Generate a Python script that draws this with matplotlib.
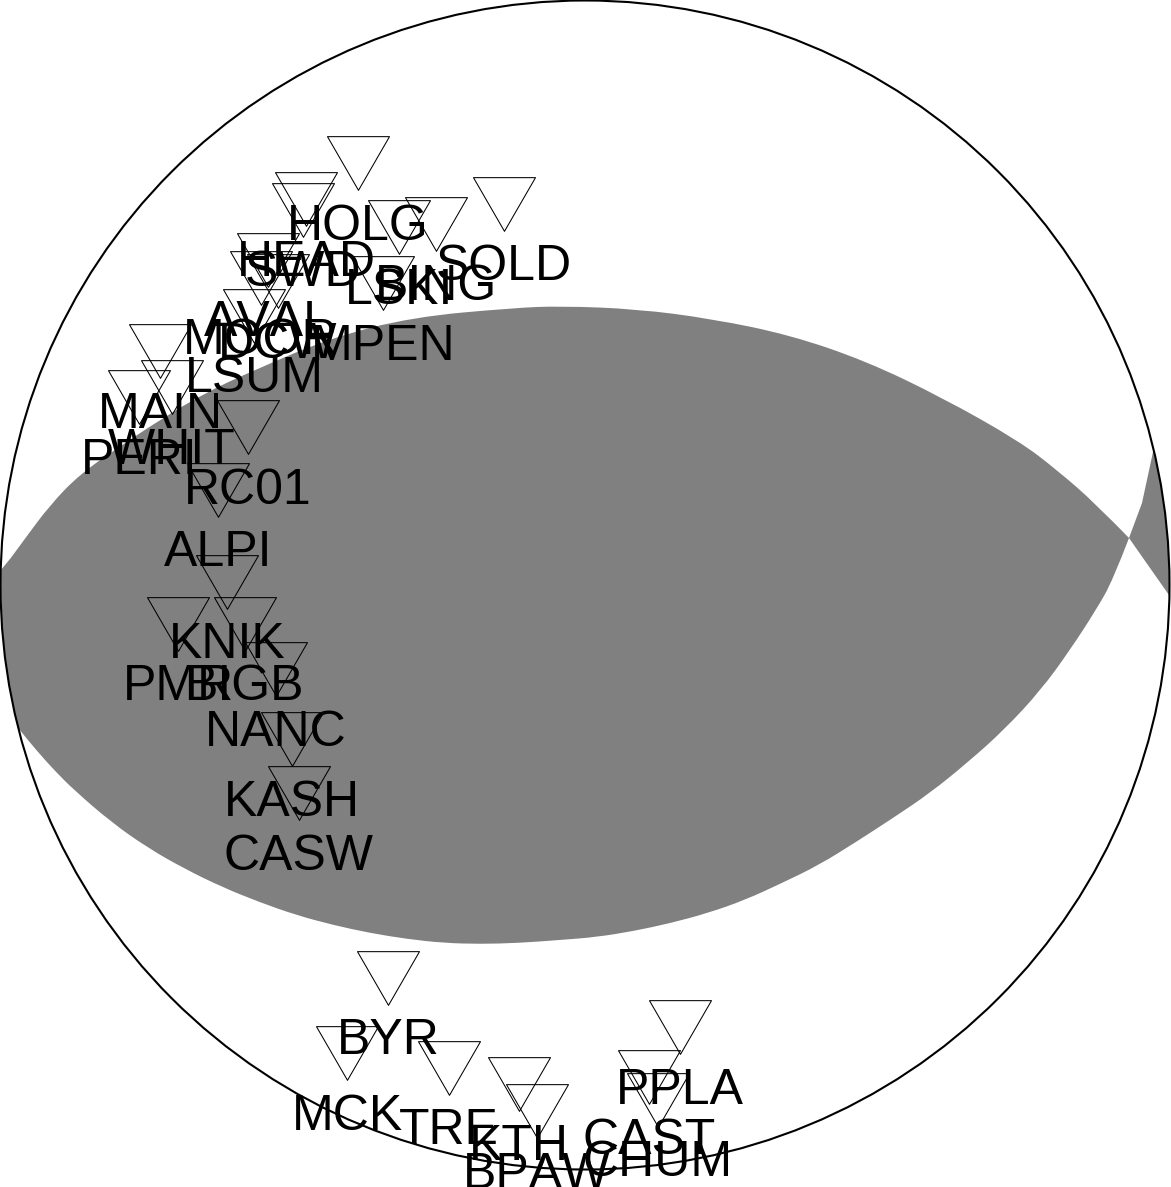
import matplotlib
matplotlib.use('Agg')
import matplotlib.pyplot as plt
from matplotlib.patches import Circle, PathPatch, Polygon
from matplotlib.path import Path

plt.rcParams['font.family'] = ['Liberation Sans', 'DejaVu Sans']
plt.rcParams['text.kerning_factor'] = 16  # labels in the original have no kerning

# stations, positions (disc spans 0-1170 across)
station_names = ['HOLG', 'SOLD', 'HEAD', 'SWD', 'LSKI', 'BING', 'MPEN', 'AVAL', 'MOOR', 'DCW',
                 'LSUM', 'MAIN', 'WHIT', 'PERI', 'RC01', 'ALPI', 'KNIK', 'PMR', 'BIGB', 'NANC',
                 'KASH', 'CASW', 'BYR', 'MCK', 'TRE', 'KTH', 'BPAW', 'PPLA', 'CAST', 'CHUM']
station_x = [358, 504, 306, 303, 399, 436, 383, 268, 261, 278,
             254, 160, 172, 139, 248, 218, 227, 178, 245, 276,
             292, 299, 388, 347, 449, 519, 537, 680, 649, 658]
station_y = [163, 204, 199, 210, 227, 224, 283, 260, 278, 281,
             316, 351, 387, 397, 427, 490, 582, 624, 624, 669,
             739, 793, 978, 1053, 1068, 1084, 1111, 1027, 1077, 1100]

# nodal plane outlines
upper_x = [-20, 2, 24, 50, 80, 122, 163, 205, 250, 330, 413, 513, 560, 637, 713, 790, 866, 943, 1019, 1057, 1096, 1129]
upper_y = [592, 570, 540, 505, 474, 445, 418, 393, 372, 338, 317, 308, 306, 309, 319, 335, 361, 398, 441, 470, 504, 538]
lower_x = [1129, 1113, 1096, 1070, 1041, 1004, 967, 930, 893, 856, 819, 782, 745, 708, 671, 634, 597, 560,
           518, 481, 444, 407, 370, 333, 296, 259, 222, 185, 148, 111, 74, 55, 37, 18, -20]
lower_y = [538, 580, 610, 650, 690, 730, 763, 793, 818, 842, 865, 883, 900, 913, 923, 931, 937, 940,
           943, 944, 943, 939, 933, 925, 915, 902, 887, 869, 848, 822, 790, 771, 751, 728, 680]
sliver_x = [1129, 1142, 1153, 1190, 1190, 1169, 1150]
sliver_y = [538, 503, 452, 452, 615, 595, 568]

gray = '#808080'
tri_size = 62 * 0.72  # px to pt at dpi 100
label_drop = 76.5 * 0.72


def smooth_segment(xs, ys):
    # quadratic curves through the midpoints, read points act as control points
    pts = list(zip(xs, ys))
    verts, codes = [], []
    for i in range(1, len(pts) - 1):
        nxt = pts[i + 1]
        if i < len(pts) - 2:
            nxt = ((pts[i][0] + nxt[0]) / 2, (pts[i][1] + nxt[1]) / 2)
        verts += [pts[i], nxt]
        codes += [Path.CURVE3, Path.CURVE3]
    return pts[0], verts, codes


fig = plt.figure(figsize=(11.71, 11.87), dpi=100)
ax = fig.add_axes([0, 0, 1, 1])
ax.set_xlim(0, 1171)
ax.set_ylim(1187, 0)
ax.axis('off')

outline = Circle((585, 585), 584.5, facecolor='none', edgecolor='black', linewidth=1.5, zorder=3)
ax.add_patch(outline)

start, up_verts, up_codes = smooth_segment(upper_x, upper_y)
_, low_verts, low_codes = smooth_segment(lower_x, lower_y)
lens_verts = [start] + up_verts + low_verts + [start]
lens_codes = [Path.MOVETO] + up_codes + low_codes + [Path.CLOSEPOLY]
lens = PathPatch(Path(lens_verts, lens_codes), facecolor=gray, edgecolor='none', zorder=1)
sliver = Polygon(list(zip(sliver_x, sliver_y)), closed=True, facecolor=gray, edgecolor='none', zorder=1)
for patch in [lens, sliver]:
    ax.add_patch(patch)
    patch.set_clip_path(outline)

# apex-down triangle
tri = Path([(-1, 0.866), (1, 0.866), (0, -0.866), (-1, 0.866)], closed=True)
ax.plot(station_x, station_y, linestyle='none', marker=tri, markersize=tri_size,
        markerfacecolor='none', markeredgecolor='black', markeredgewidth=0.75, zorder=4, clip_on=False)

for name, x, y in zip(station_names, station_x, station_y):
    ax.annotate(name, (x, y), xytext=(0, -label_drop), textcoords='offset points',
                ha='center', va='baseline', fontsize=36, color='black', zorder=5)

fig.savefig('out.png', dpi=100)
plt.close()
